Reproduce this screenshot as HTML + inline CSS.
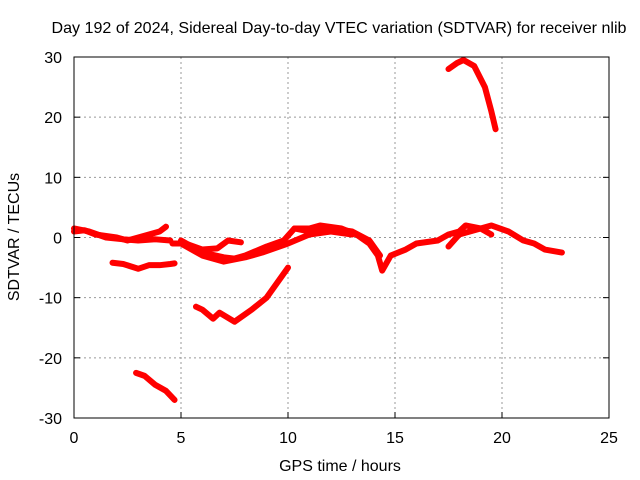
<!DOCTYPE html>
<html><head><meta charset="utf-8"><style>
body{margin:0;background:#fff}
svg{display:block;font-family:"Liberation Sans",sans-serif}
</style></head><body>
<svg id="chart" width="640" height="480">
<text x="339" y="33" font-size="16" textLength="575" lengthAdjust="spacingAndGlyphs" text-anchor="middle">Day 192 of 2024, Sidereal Day-to-day VTEC variation (SDTVAR) for receiver nlib</text>
<text x="340" y="471" font-size="16" text-anchor="middle">GPS time / hours</text>
<text transform="translate(19,237) rotate(-90)" font-size="16" text-anchor="middle">SDTVAR / TECUs</text>
<g id="grid"></g><g id="series"></g>
<rect x="74" y="57" width="535" height="361" fill="none" stroke="#000"/>
</svg>
<script>
const xTicks=[0,5,10,15,20,25];
const yTicks=[-30,-20,-10,0,10,20,30];
const seriesA=[[0,1],[0.5,1.2],[1,0.5],[2,0],[2.5,-0.5],[3,0],[3.5,0.5],[4,1],[4.3,1.8]];
const seriesA2=[[0,1.5],[0.7,1],[1.5,0],[2.3,-0.3],[3,-0.5],[3.8,-0.3],[4.5,-0.5]];
const seriesB=[[1.8,-4.2],[2.3,-4.4],[3,-5.2],[3.5,-4.6],[4,-4.6],[4.5,-4.4],[4.7,-4.3]];
const seriesC=[[4.6,-1],[5.2,-1],[6,-2],[6.7,-1.8],[7.2,-0.5],[7.8,-0.8]];
const seriesD=[[5,-0.5],[6,-2.5],[7,-3.3],[7.5,-3.5],[8,-3],[9,-1.5],[9.8,-0.5],[10.3,1.5],[11,1],[12,1.5],[13,1],[13.8,-0.5],[14.3,-3]];
const seriesE=[[5,-1],[6,-3],[7,-4],[8,-3.3],[8.8,-2.5],[10,-1],[11,0.5],[12,1],[13,0.5]];
const seriesF=[[5.7,-11.5],[6,-12],[6.5,-13.5],[6.8,-12.5],[7.5,-14],[8.3,-12],[9,-10],[9.6,-7],[10,-5]];
const seriesG=[[2.9,-22.5],[3.3,-23],[3.8,-24.5],[4.3,-25.5],[4.7,-27]];
const seriesH=[[17.5,28],[17.9,29],[18.2,29.5],[18.7,28.5],[19.2,25],[19.5,21],[19.7,18]];
const seriesI=[[10.3,1.5],[11,1.5],[11.5,2],[12.5,1.5],[13.2,0.5],[13.8,-1],[14.2,-3],[14.4,-5.5],[14.8,-3],[15.5,-2],[16,-1],[17,-0.5],[17.5,0.5],[18,1],[18.3,2],[19,1.5],[19.5,2],[20.3,1],[21,-0.5],[21.5,-1],[22,-2],[22.8,-2.5]];
const seriesJ=[[17.5,-1.5],[18,0.5],[18.5,1],[19,1.5],[19.5,0.5]];
const allSeries=[seriesA,seriesA2,seriesB,seriesC,seriesD,seriesE,seriesF,seriesG,seriesH,seriesI,seriesJ];
const X0=74,X1=609,Y0=418,Y1=57;
const xs=v=>X0+(v-0)/25*(X1-X0);
const ys=v=>Y0-(v+30)/60*(Y0-Y1);
const NS="http://www.w3.org/2000/svg";
const grid=document.getElementById('grid'),svg=document.getElementById('chart');
function mk(t,a){const e=document.createElementNS(NS,t);for(const k in a)e.setAttribute(k,a[k]);return e;}
xTicks.forEach(t=>{const x=xs(t);
 if(t>0&&t<25){const l=mk('line',{x1:x,x2:x,y1:Y1,y2:Y0,stroke:'#999','stroke-dasharray':'2,3'});grid.appendChild(l);}
 const tk=mk('line',{x1:x,x2:x,y1:Y0,y2:Y0-6,stroke:'#000'});grid.appendChild(tk);
 const tx=mk('text',{x:x,y:Y0+25,'font-size':16,'text-anchor':'middle'});tx.textContent=t;grid.appendChild(tx);});
yTicks.forEach(t=>{const y=ys(t);
 if(t>-30&&t<30){const l=mk('line',{x1:X0,x2:X1,y1:y,y2:y,stroke:'#999','stroke-dasharray':'2,3'});grid.appendChild(l);}
 const tk=mk('line',{x1:X0,x2:X0+6,y1:y,y2:y,stroke:'#000'});grid.appendChild(tk);
 const tk2=mk('line',{x1:X1,x2:X1-6,y1:y,y2:y,stroke:'#000'});grid.appendChild(tk2);
 const tx=mk('text',{x:X0-12,y:y+6,'font-size':16,'text-anchor':'end'});tx.textContent=t;grid.appendChild(tx);});
const sg=document.getElementById('series');
allSeries.forEach(s=>{const p=mk('polyline',{points:s.map(d=>xs(d[0])+','+ys(d[1])).join(' '),fill:'none',stroke:'#f00','stroke-width':6,'stroke-linejoin':'round','stroke-linecap':'round'});
 
 
 sg.appendChild(p);});
</script>
</body></html>
